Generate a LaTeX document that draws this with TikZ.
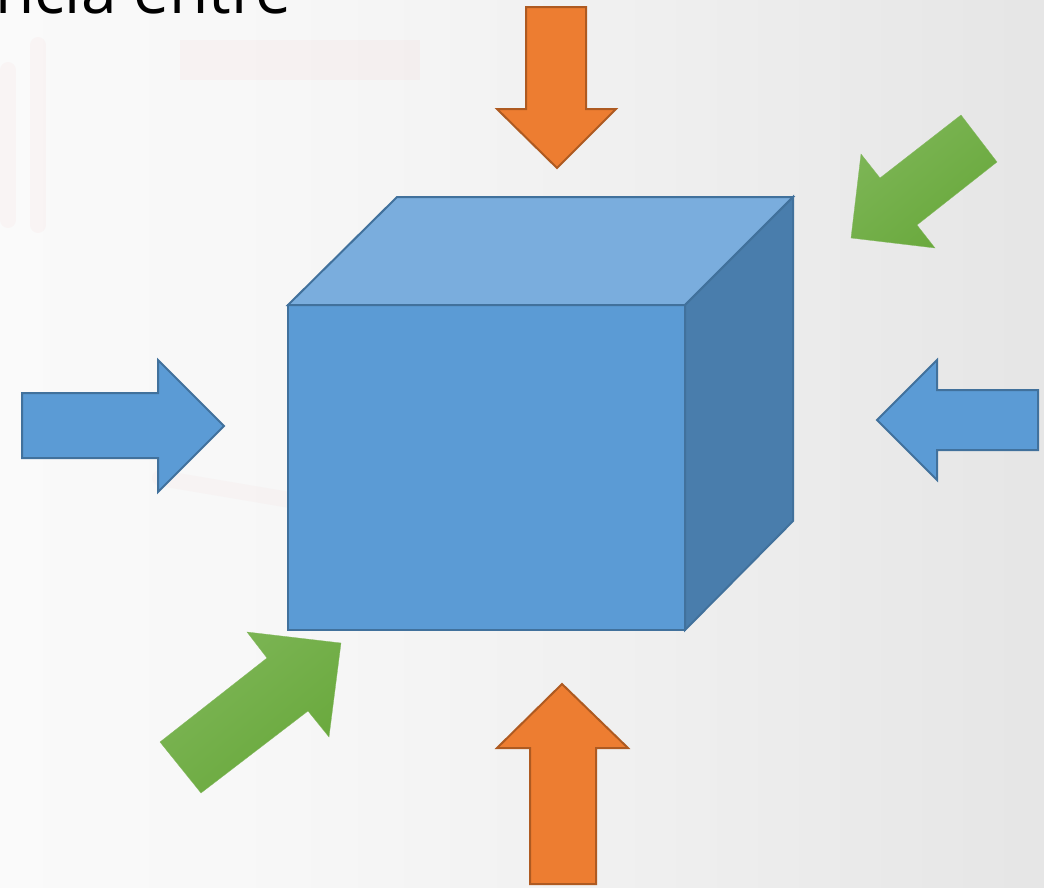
\documentclass[tikz,border=0pt]{standalone}
\usepackage{fontspec}
\setmainfont{Open Sans}
\definecolor{cubeFront}{HTML}{5B9BD5}
\definecolor{cubeTop}{HTML}{7AADDD}
\definecolor{cubeSide}{HTML}{497DAC}
\definecolor{blueLine}{HTML}{41719C}
\definecolor{orangeFill}{HTML}{ED7D31}
\definecolor{orangeLine}{HTML}{AE5A21}
\definecolor{greenA}{HTML}{7EB657}
\definecolor{greenB}{HTML}{68A83B}
\definecolor{wmark}{HTML}{E89090}
\pgfdeclarehorizontalshading{bgshade}{100bp}{
  color(0bp)=(white!98!black);
  color(25bp)=(white!98!black);
  color(38bp)=(white!97!black);
  color(55bp)=(white!94!black);
  color(75bp)=(white!90!black);
  color(100bp)=(white!90!black)}
\tikzset{
  facebox/.style={draw=blueLine, line width=2pt, line join=miter},
  bluearrow/.style={fill=cubeFront, draw=blueLine, line width=2pt, line join=miter},
  orangearrow/.style={fill=orangeFill, draw=orangeLine, line width=2pt, line join=miter},
  greenarrow/.style={top color=greenA, bottom color=greenB, shading angle=40, draw=greenB!80!white, line width=0.3pt},
  wm/.style={draw=wmark, opacity=0.05, line width=16pt, line cap=round, line join=round},
  titletext/.style={anchor=base west, inner sep=0pt, text=black, font=\fontsize{64}{76}\selectfont}
}
\begin{document}
\begin{tikzpicture}[x=1pt,y=-1pt]
\useasboundingbox (0,0) rectangle (1044,887);
\clip (0,0) rectangle (1044,887);
% background
\shade[shading=bgshade] (0,0) rectangle (1044,887);
% faint watermark
\draw[wm] (38,45) -- (38,225);
\draw[wm] (8,70) -- (8,220);
\draw[wm, line width=40pt, opacity=0.05, line cap=butt] (180,60) -- (420,60);
\draw[wm, opacity=0.04] (160,478) -- (290,500);
% title (clipped at the top edge, as in the original)
\node[titletext] (title) at (-5,13) {ncia entre};
% cube
\coordinate (A) at (288,305);
\coordinate (B) at (685,305);
\coordinate (C) at (685,630);
\coordinate (D) at (288,630);
\coordinate (E) at (397,197);
\coordinate (F) at (793,197);
\coordinate (G) at (793,521);
\fill[cubeTop] (A) -- (E) -- (F) -- (B) -- cycle;
\fill[cubeSide] (B) -- (F) -- (G) -- (C) -- cycle;
\fill[cubeFront] (A) -- (B) -- (C) -- (D) -- cycle;
\draw[facebox] (A) -- (E) -- (F) -- (B) -- cycle;
\draw[facebox] (B) -- (F) -- (G) -- (C) -- cycle;
\draw[facebox] (A) -- (B) -- (C) -- (D) -- cycle;
% top orange arrow (down)
\draw[orangearrow] (526,7) -- (586,7) -- (586,109) -- (616,109) -- (557,168) -- (497,109) -- (526,109) -- cycle;
% bottom orange arrow (up)
\draw[orangearrow] (530,884) -- (596,884) -- (596,748) -- (628,748) -- (562,684) -- (497,748) -- (530,748) -- cycle;
% left blue arrow (right)
\draw[bluearrow] (22,393) -- (158,393) -- (158,360) -- (224,426) -- (158,492) -- (158,458) -- (22,458) -- cycle;
% right blue arrow (left)
\draw[bluearrow] (1038,390) -- (937,390) -- (937,360) -- (877,420) -- (937,480) -- (937,450) -- (1038,450) -- cycle;
% top-right green arrow
\shade[greenarrow] (961,115) -- (997,162) -- (917,225) -- (935,248) -- (851,238) -- (861,154) -- (880,178) -- cycle;
% bottom-left green arrow
\shade[greenarrow] (160,742) -- (201,793) -- (308,711) -- (329,737) -- (341,643) -- (247,632) -- (267,658) -- cycle;
\end{tikzpicture}
\end{document}
